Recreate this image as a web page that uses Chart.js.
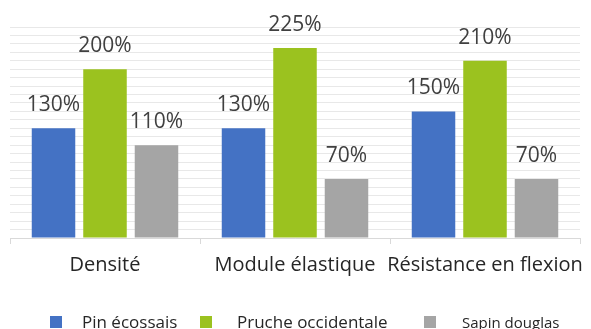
<!DOCTYPE html>
<html lang="fr">
<head>
<meta charset="utf-8">
<script src="https://cdn.jsdelivr.net/npm/chart.js@4/dist/chart.umd.min.js"></script>
<style>
  html, body { margin: 0; padding: 0; background: #ffffff; }
  #wrap { position: relative; width: 591px; height: 329px; }
</style>
</head>
<body>
<div id="wrap"><canvas id="chart" width="591" height="329"></canvas></div>
<script>
// Propriétés mécaniques relatives (en %) de trois essences de bois
const categories = ['Densité', 'Module élastique', 'Résistance en flexion'];
const seriesNames = ['Pin écossais', 'Pruche occidentale', 'Sapin douglas'];
const pinEcossais = [130, 130, 150];
const prucheOccidentale = [200, 225, 210];
const sapinDouglas = [110, 70, 70];
const seriesColors = ['#4472C4', '#9BC21F', '#A5A5A5'];

const FONT = "'Open Sans', 'Noto Sans', 'DejaVu Sans', sans-serif";

// Valeurs en pourcentage au-dessus de chaque barre
const valueLabels = {
  id: 'valueLabels',
  afterDatasetsDraw(chart) {
    const ctx = chart.ctx;
    ctx.save();
    ctx.font = '21px ' + FONT;
    ctx.fillStyle = '#404040';
    ctx.textAlign = 'center';
    ctx.textBaseline = 'alphabetic';
    chart.data.datasets.forEach((ds, i) => {
      const meta = chart.getDatasetMeta(i);
      meta.data.forEach((bar, j) => {
        ctx.fillText(ds.data[j] + '%', bar.x, bar.y - 17);
      });
    });
    ctx.restore();
  }
};

// Légende en bas du graphique
const bottomLegend = {
  id: 'bottomLegend',
  afterDraw(chart, args, opts) {
    const ctx = chart.ctx;
    ctx.save();
    ctx.textBaseline = 'alphabetic';
    ctx.textAlign = 'left';
    chart.data.datasets.forEach((ds, i) => {
      const item = opts.items[i];
      ctx.fillStyle = ds.backgroundColor;
      ctx.fillRect(item.box, opts.boxTop, opts.boxSize, opts.boxSize);
      ctx.fillStyle = '#262626';
      ctx.font = item.size + 'px ' + FONT;
      ctx.fillText(ds.label, item.text, opts.baseline);
    });
    ctx.restore();
  }
};

new Chart(document.getElementById('chart'), {
  type: 'bar',
  data: {
    labels: categories,
    datasets: [
      { label: seriesNames[0], data: pinEcossais, backgroundColor: seriesColors[0] },
      { label: seriesNames[1], data: prucheOccidentale, backgroundColor: seriesColors[1] },
      { label: seriesNames[2], data: sapinDouglas, backgroundColor: seriesColors[2] }
    ]
  },
  options: {
    responsive: false,
    animation: false,
    events: [],
    categoryPercentage: 0.813,
    barPercentage: 0.845,
    layout: { padding: { left: 10, right: 11, top: 27, bottom: 50 } },
    plugins: {
      legend: { display: false },
      tooltip: { enabled: false },
      bottomLegend: {
        boxTop: 316,
        boxSize: 12,
        baseline: 328,
        items: [
          { box: 50, text: 82, size: 17 },
          { box: 200, text: 237, size: 17 },
          { box: 424, text: 462, size: 15 }
        ]
      }
    },
    scales: {
      x: {
        offset: true,
        afterFit(scale) {
          // les libellés longs ne réduisent pas la zone de tracé
          scale.paddingLeft = 0;
          scale.paddingRight = 0;
          scale.height = 41;
        },
        grid: {
          display: true,
          offset: true,
          drawOnChartArea: false,
          drawTicks: true,
          tickLength: 6,
          color: '#D9D9D9',
          lineWidth: 1
        },
        border: { display: true, color: '#D9D9D9', width: 1 },
        ticks: {
          color: '#262626',
          font: { family: FONT, size: 20 },
          padding: 9,
          maxRotation: 0,
          autoSkip: false
        }
      },
      y: {
        min: 0,
        max: 250,
        ticks: { display: false, stepSize: 10 },
        grid: { color: '#E8E8E8', lineWidth: 1, drawTicks: false },
        border: { display: false }
      }
    }
  },
  plugins: [valueLabels, bottomLegend]
});
</script>
</body>
</html>
